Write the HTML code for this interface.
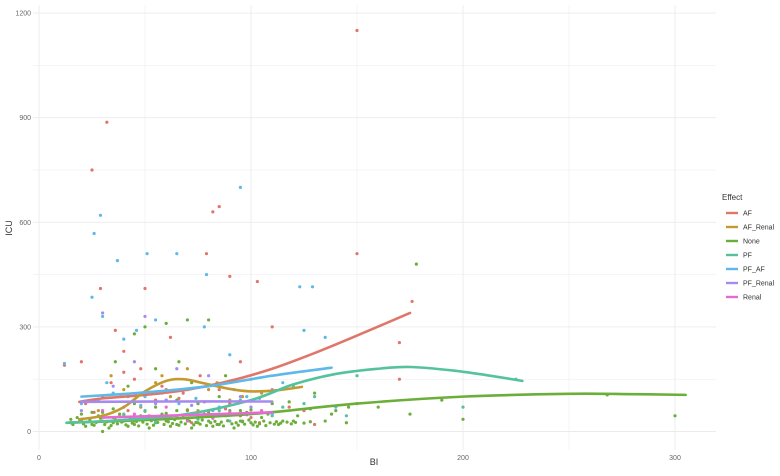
<!DOCTYPE html>
<html><head><meta charset="utf-8"><style>
body{margin:0;background:#fff;}
svg{display:block;font-family:"Liberation Sans",sans-serif;}
</style></head><body>
<svg id="chart" width="780" height="476" viewBox="0 0 780 476">
<g id="grid"></g>
<g id="pts"></g>
<g id="lines"></g>
<g id="axes"></g>
<text x="374" y="465" font-size="9" fill="#333" text-anchor="middle">BI</text>
<text x="0" y="0" font-size="9" fill="#333" text-anchor="middle" transform="translate(12,228) rotate(-90)">ICU</text>
<g id="legend"></g>
</svg>
<script>
const groups=["AF","AF_Renal","None","PF","PF_AF","PF_Renal","Renal"];
const colors=["#E0766A","#C39A30","#6BAF3A","#55C29E","#5EB8E8","#A58AF0","#E56BD3"];
const xTicks=[0,100,200,300];
const yTicks=[0,300,600,900,1200];
// scatter points [BI, ICU] per group
const ptsAF=[[150,1150],[32,887],[25,750],[79,510],[82,630],[85,645],[90,445],[103,430],[150,510],[176,373],[29,410],[50,410],[170,255],[170,150],[12,190],[20,200],[40,230],[36,290],[62,270],[76,160],[85,120],[95,200],[110,300],[60,120],[45,150],[30,100],[55,90],[70,60],[100,40],[125,60],[130,20],[40,170],[22,80],[68,110],[90,80],[118,70],[34,140],[48,180],[58,130],[66,95],[78,85],[88,65],[96,30],[104,25],[26,55],[42,60],[52,45],[72,25]];
const ptsAFR=[[34,160],[40,120],[55,140],[62,100],[70,180],[80,120],[28,60],[48,70],[90,90],[105,110],[65,40],[45,30],[75,60],[58,160],[84,140],[96,100]];
const ptsNone=[[178,480],[300,45],[268,105],[200,35],[190,90],[175,50],[150,80],[140,60],[130,110],[120,30],[115,30],[110,80],[105,40],[100,25],[95,30],[90,60],[85,20],[80,30],[75,25],[70,35],[65,20],[60,30],[55,25],[50,35],[45,20],[40,30],[35,25],[30,30],[25,20],[20,30],[15,25],[18,40],[22,15],[28,45],[33,10],[38,50],[42,15],[48,45],[52,10],[58,50],[62,15],[68,45],[72,10],[78,50],[82,15],[88,45],[92,10],[98,55],[103,15],[108,50],[113,20],[122,45],[135,30],[145,25],[160,70],[15,35],[25,55],[35,65],[45,80],[55,70],[65,90],[75,80],[85,100],[95,60],[50,300],[60,310],[70,320],[80,320],[45,280],[36,200],[66,200],[88,160],[55,180],[42,130],[72,140],[30,0],[35,40],[65,60],[95,45],
[16,20],[19,28],[21,22],[24,33],[26,18],[27,26],[29,38],[31,20],[32,28],[34,17],[36,33],[37,22],[39,27],[41,19],[43,36],[44,24],[46,29],[47,16],[49,27],[51,21],[53,31],[54,18],[56,26],[57,36],[59,20],[61,28],[63,23],[64,34],[66,18],[67,27],[69,22],[71,30],[73,19],[74,26],[76,21],[77,33],[79,17],[81,25],[83,29],[84,20],[86,27],[87,16],[89,31],[91,22],[93,25],[94,18],[96,28],[97,21],[99,33],[101,19],[102,27],[104,22],[106,30],[107,17],[109,25],[111,21],[112,28],[114,24],[117,27],[119,22],[121,26],[125,24],[128,28],[20,50],[30,55],[40,48],[50,58],[60,52],[70,62],[80,55],[90,48],[100,62],[110,55],[118,85],[128,65],[138,50],[146,70]];
const ptsPF=[[100,150],[120,130],[150,160],[130,100],[115,70],[95,90],[85,60],[70,50],[60,40],[50,60],[40,50],[30,45],[20,35],[225,150],[200,70],[145,45],[110,45],[35,30],[55,28],[75,35],[90,30],[105,55],[125,80]];
const ptsPFAF=[[37,490],[26,568],[29,620],[51,510],[65,510],[79,450],[95,700],[123,415],[129,415],[25,385],[30,330],[12,195],[40,265],[55,320],[46,290],[78,300],[90,220],[115,140],[98,100],[60,90],[35,110],[20,80],[70,120],[50,100],[85,70],[110,50],[140,70],[125,290],[135,270],[32,140],[42,100],[58,110],[66,80],[74,95],[82,60],[92,120],[104,95],[28,90],[48,75]];
const ptsPFR=[[30,340],[50,330],[45,200],[65,180],[35,130],[80,160],[95,100],[60,90],[40,70],[20,60],[110,120],[85,50],[55,80],[72,75],[100,70]];
const ptsRen=[[30,60],[45,50],[60,70],[75,45],[90,55],[105,60],[55,35],[70,30],[38,42],[82,38],[98,48]];
const allPts=[ptsAF,ptsAFR,ptsNone,ptsPF,ptsPFAF,ptsPFR,ptsRen];
// smoothed fit curves [BI, ICU]
const fitAF=[[19,85],[30,95],[50,105],[70,120],[90,145],[110,180],[130,225],[150,275],[175,340]];
const fitAFR=[[19,35],[30,45],[40,70],[50,115],[60,145],[68,150],[78,138],[90,122],[100,115],[112,118],[124,128]];
const fitNone=[[13,25],[50,33],[100,50],[150,80],[200,100],[250,108],[280,107],[305,105]];
const fitPF=[[13,25],[40,33],[70,50],[100,90],[120,135],[140,165],[160,180],[175,185],[195,175],[215,158],[228,145]];
const fitPFAF=[[20,100],[50,112],[80,130],[110,160],[138,183]];
const fitPFR=[[20,85],[60,86],[110,86]];
const fitRen=[[30,40],[70,47],[110,55]];
const allFits=[fitAF,fitAFR,fitNone,fitPF,fitPFAF,fitPFR,fitRen];

const NS="http://www.w3.org/2000/svg";
const X0=33,X1=716,Y0=5,Y1=450;
const sx=v=>39+v*2.12;
const sy=v=>431.5-v*0.3487;
function mk(t,a,p){const e=document.createElementNS(NS,t);for(const k in a)e.setAttribute(k,a[k]);p.appendChild(e);return e;}
const grid=document.getElementById('grid'),axes=document.getElementById('axes');
for(let v=0;v<=300;v+=50){const l=mk('line',{x1:sx(v),x2:sx(v),y1:Y0,y2:Y1,stroke:'#ebebeb','stroke-width':v%100?0.5:0.9},grid);

}
for(let v=0;v<=1200;v+=150){const l=mk('line',{x1:X0,x2:X1,y1:sy(v),y2:sy(v),stroke:'#ebebeb','stroke-width':v%300?0.5:0.9},grid);

}
xTicks.forEach(v=>{const t=mk('text',{x:sx(v),y:460,'font-size':7,fill:'#666','text-anchor':'middle'},axes);t.textContent=v;

});
yTicks.forEach(v=>{const t=mk('text',{x:31,y:sy(v)+2.5,'font-size':7,fill:'#666','text-anchor':'end'},axes);t.textContent=v;

});
const pg=document.getElementById('pts');
allPts.forEach((arr,gi)=>arr.forEach(p=>{const c=mk('circle',{cx:sx(p[0]),cy:sy(p[1]),r:1.6,fill:colors[gi]},pg);

}));
const lg=document.getElementById('lines');
function smooth(pts){let d='M'+pts[0].join(',');for(let i=0;i<pts.length-1;i++){const p0=pts[i-1]||pts[i],p1=pts[i],p2=pts[i+1],p3=pts[i+2]||p2;
d+=` C${p1[0]+(p2[0]-p0[0])/6},${p1[1]+(p2[1]-p0[1])/6} ${p2[0]-(p3[0]-p1[0])/6},${p2[1]-(p3[1]-p1[1])/6} ${p2[0]},${p2[1]}`;}return d;}
allFits.forEach((arr,gi)=>{const pp=arr.map(p=>[sx(p[0]),sy(p[1])]);const l=mk('path',{d:smooth(pp),fill:'none',stroke:colors[gi],'stroke-width':2.6,'stroke-linecap':'round'},lg);

});
const leg=document.getElementById('legend');
const tt=mk('text',{x:722,y:200,'font-size':8,fill:'#333'},leg);tt.textContent='Effect';


groups.forEach((g,i)=>{const y=213+i*14;
const ln=mk('line',{x1:726,x2:738,y1:y,y2:y,stroke:colors[i],'stroke-width':2.4},leg);


const t=mk('text',{x:743,y:y+2.5,'font-size':7,fill:'#333'},leg);t.textContent=g;

});
</script>
</body></html>
